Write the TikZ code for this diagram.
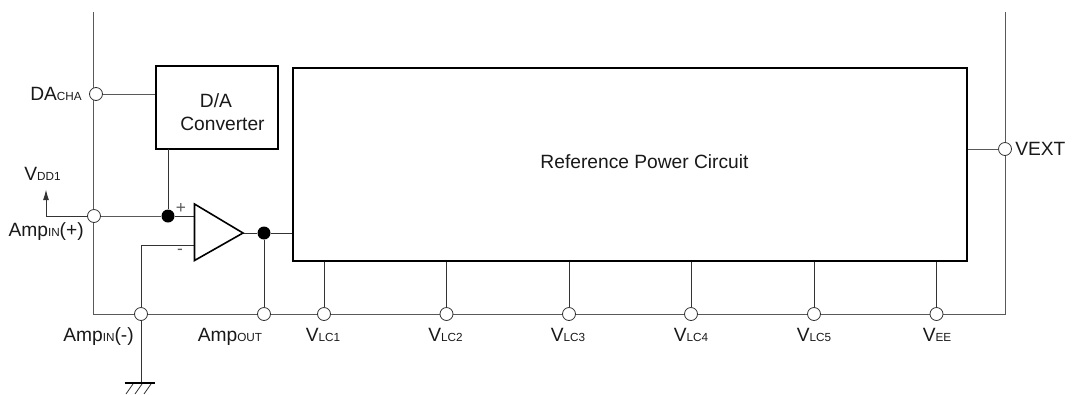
\documentclass[tikz,border=0pt]{standalone}
\usepackage{fontspec}
\usetikzlibrary{arrows.meta}
\setmainfont{Liberation Sans}
\newcommand{\sm}[1]{{\fontsize{8.8}{10}\selectfont #1}}
\tikzset{
  wire/.style={draw=black!65,line width=0.75pt},
  thin wire/.style={draw=black!80,line width=0.7pt},
  heavy/.style={draw=black,line width=1.5pt,fill=white},
  pin/.style={circle,draw=black!80,fill=white,line width=0.6pt,inner sep=0pt,minimum size=9.75pt},
  junction/.style={circle,fill=black,inner sep=0pt,minimum size=9.75pt},
  lab/.style={font=\fontsize{14.4}{16}\selectfont,inner sep=0pt,text=black!90},
}
\begin{document}
\begin{tikzpicture}[x=0.75pt,y=-0.75pt]
\useasboundingbox (0,0) rectangle (1072,394);
\coordinate (railTL) at (93.5,12);
\coordinate (railBL) at (93.5,314);
\coordinate (railTR) at (1005.5,12);
\coordinate (railBR) at (1005.5,314);
\draw[wire] (railTL) -- (railBL) -- (railBR) -- (railTR);
\node[heavy,minimum width=91.5pt,minimum height=62pt,inner sep=0pt] (dac) at (217,107.5) {};
\node[lab] (dactop) at (216,100.5) {D/A};
\node[lab] (dacbot) at (222.5,123.5) {Converter};
\node[heavy,minimum width=505.5pt,minimum height=144.75pt,inner sep=0pt] (ref) at (630,164.5) {};
\node[lab] (reftext) at (644.5,162) {Reference Power Circuit};
\node[pin] (pda) at (96,94) {};
\node[pin] (pap) at (94,216) {};
\node[pin] (pam) at (141,314) {};
\node[pin] (pout) at (264,314) {};
\node[pin] (p1) at (324,314) {};
\node[pin] (p2) at (446.5,314) {};
\node[pin] (p3) at (569,314) {};
\node[pin] (p4) at (691,314) {};
\node[pin] (p5) at (814,314) {};
\node[pin] (p6) at (936.5,314) {};
\node[pin] (pext) at (1005,149) {};
\node[junction] (jp) at (168,216) {};
\node[junction] (jo) at (264,233) {};
\coordinate (a) at (194.5,204);
\coordinate (b) at (194.5,260.5);
\coordinate (c) at (243,233);
\coordinate (ip) at (194.5,216);
\coordinate (im) at (194.5,245.5);
\coordinate (imc) at (141,245.5);
\coordinate (vdd) at (46,189.5);
\coordinate (vddc) at (46,216);
\coordinate (gnd) at (141,383);
\coordinate (dacstem) at (168,149);
\draw[wire] (pda) -- (pda -| dac.west);
\draw[thin wire] (dacstem) -- (jp);
\draw[wire] (pap) -- (jp);
\draw[thin wire] (jp) -- (ip);
\draw[thin wire] (im) -- (imc) -- (pam);
\draw[thin wire] (c) -- (jo) -- (jo -| ref.west);
\draw[thin wire] (jo) -- (pout);
\draw[thin wire] (p1) -- (p1 |- ref.south);
\draw[thin wire] (p2) -- (p2 |- ref.south);
\draw[thin wire] (p3) -- (p3 |- ref.south);
\draw[thin wire] (p4) -- (p4 |- ref.south);
\draw[thin wire] (p5) -- (p5 |- ref.south);
\draw[thin wire] (p6) -- (p6 |- ref.south);
\draw[wire] (pext) -- (pext -| ref.east);
\draw[thin wire] (pap) -- (vddc);
\draw[thin wire,-{Latex[length=8pt,width=4.5pt]}] (vddc) -- (vdd);
\draw[thin wire] (pam) -- (gnd);
\draw[black,line width=1.2pt] (124.5,383) -- (155,383);
\foreach \x in {133,142,151} \draw[black!80,line width=0.6pt] (\x,384) -- (\x-7,394);
\draw[black,line width=1.2pt,fill=white,line join=miter] (a) -- (b) -- (c) -- cycle;
\node[lab,font=\fontsize{13}{14}\selectfont,text=black!65] (plus) at (181,208) {+};
\node[lab,font=\fontsize{13}{14}\selectfont,text=black!65] (minus) at (180,252) {-};
\node[lab,anchor=east] (lda) at (82,94) {DA\sm{CHA}};
\node[lab,anchor=west] (lvdd) at (24,174) {V\sm{DD1}};
\node[lab,anchor=east] (lap) at (84,232) {Amp\sm{IN}(+)};
\node[lab,anchor=east] (lam) at (134,337) {Amp\sm{IN}(-)};
\node[lab] (lout) at (230,337) {Amp\sm{OUT}};
\node[lab] (l1) at (323,335) {V\sm{LC1}};
\node[lab] (l2) at (445.5,335) {V\sm{LC2}};
\node[lab] (l3) at (568,335) {V\sm{LC3}};
\node[lab] (l4) at (691,335) {V\sm{LC4}};
\node[lab] (l5) at (814,335) {V\sm{LC5}};
\node[lab] (l6) at (937,335) {V\sm{EE}};
\node[lab,anchor=west] (lext) at (1015,149) {VEXT};
\end{tikzpicture}
\end{document}
